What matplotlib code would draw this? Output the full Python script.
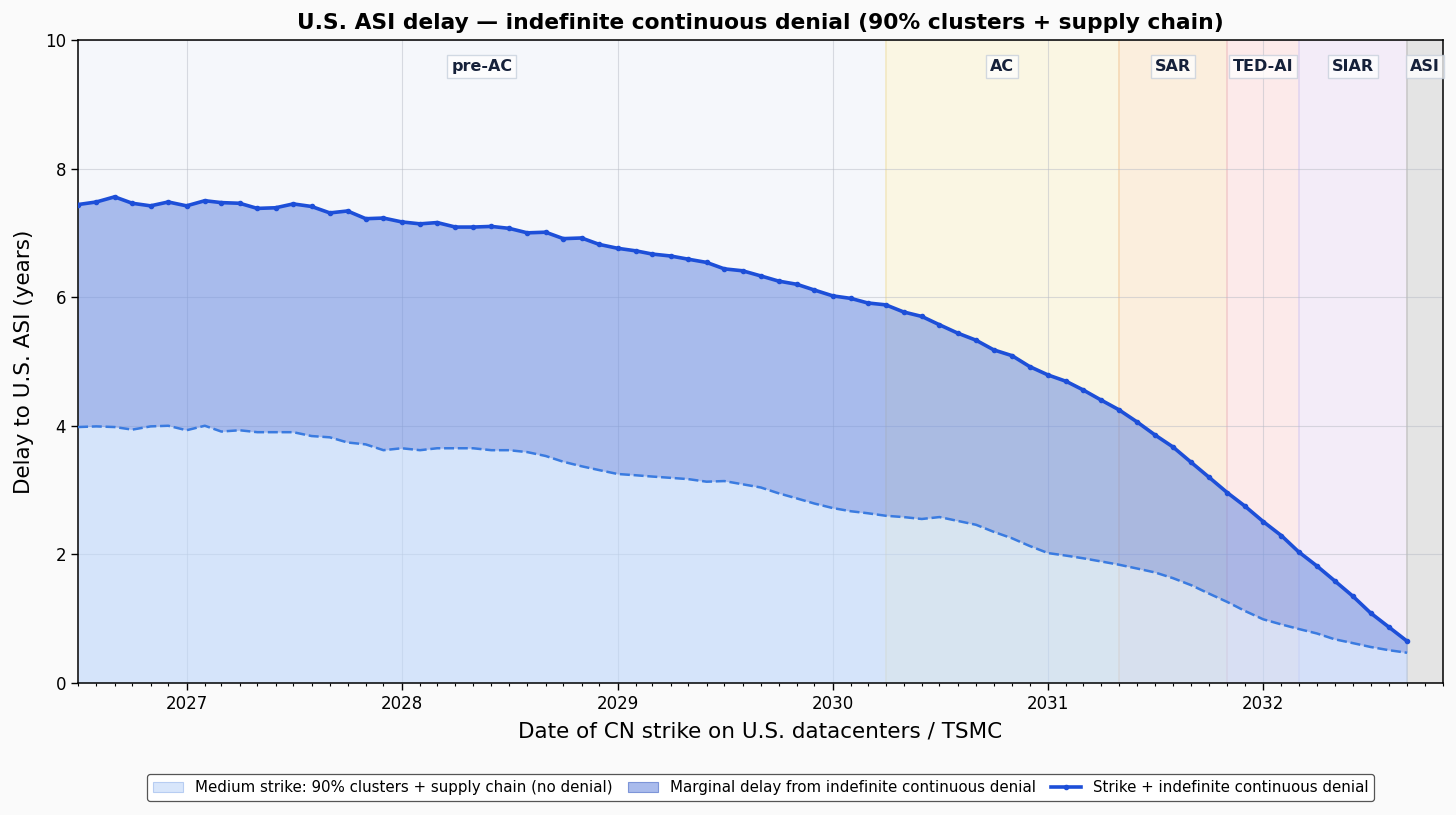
import matplotlib
matplotlib.use('Agg')
import matplotlib.pyplot as plt
import matplotlib.dates as mdates
from matplotlib.patches import Patch
from matplotlib.lines import Line2D
import pandas as pd

# monthly strike dates
dates = pd.date_range('2026-07-01', periods=75, freq='MS')

# delay with indefinite continuous denial (years)
with_denial = [
    7.44, 7.48, 7.56, 7.46, 7.42, 7.48, 7.42, 7.50, 7.47, 7.46, 7.38, 7.39,
    7.45, 7.41, 7.31, 7.34, 7.22, 7.23, 7.17, 7.14, 7.16, 7.09, 7.09, 7.10,
    7.07, 7.00, 7.01, 6.91, 6.92, 6.82, 6.76, 6.72, 6.67, 6.64, 6.59, 6.54,
    6.44, 6.41, 6.33, 6.25, 6.20, 6.11, 6.02, 5.98, 5.91, 5.88, 5.77, 5.70,
    5.57, 5.44, 5.33, 5.18, 5.09, 4.92, 4.79, 4.69, 4.56, 4.40, 4.25, 4.06,
    3.86, 3.67, 3.43, 3.20, 2.96, 2.75, 2.51, 2.29, 2.04, 1.82, 1.59, 1.35,
    1.09, 0.87, 0.65,
]

# delay from the medium strike alone (no denial)
no_denial = [
    3.98, 3.99, 3.98, 3.94, 3.99, 4.00, 3.93, 4.00, 3.91, 3.93, 3.90, 3.90,
    3.90, 3.84, 3.82, 3.74, 3.71, 3.62, 3.65, 3.62, 3.65, 3.65, 3.65, 3.62,
    3.62, 3.59, 3.53, 3.44, 3.37, 3.31, 3.25, 3.23, 3.21, 3.19, 3.17, 3.13,
    3.14, 3.09, 3.04, 2.95, 2.87, 2.79, 2.72, 2.67, 2.64, 2.60, 2.58, 2.55,
    2.58, 2.52, 2.46, 2.35, 2.25, 2.13, 2.02, 1.98, 1.94, 1.89, 1.84, 1.78,
    1.72, 1.63, 1.52, 1.39, 1.26, 1.12, 0.99, 0.91, 0.84, 0.77, 0.68, 0.62,
    0.56, 0.51, 0.47,
]

# AI milestone phases
phase_names = ['pre-AC', 'AC', 'SAR', 'TED-AI', 'SIAR', 'ASI']
phase_starts = ['2026-07-01', '2030-04-01', '2031-05-01', '2031-11-01', '2032-03-01', '2032-09-01']
x_end = '2032-11-01'

phase_fill = ['#f5f7fb', '#faf6e3', '#fbeedd', '#fceaea', '#f3ecf8', '#e4e4e4']
phase_edge = ['#dde3ee', '#f2e8c2', '#f5d9b5', '#f2cccc', '#e2d5f0', '#c9c9c9']

fig = plt.figure(figsize=(14.56, 8.15), dpi=100, facecolor='#fafafa')
ax = fig.add_axes([0.0536, 0.162, 0.9375, 0.789])
ax.set_facecolor('#f5f7fb')

bounds = [pd.Timestamp(s) for s in phase_starts] + [pd.Timestamp(x_end)]
for i, name in enumerate(phase_names):
    a, b = bounds[i], bounds[i + 1]
    ax.axvspan(a, b, color=phase_fill[i], zorder=0, lw=0)
    if i > 0:
        ax.axvline(a, color=phase_edge[i], lw=1.2, zorder=0.5)
    mid = a + (b - a) / 2
    ax.text(mid, 9.58, name, ha='center', va='center', fontsize=11.5,
            fontweight='bold', color='#16213a', zorder=6,
            bbox=dict(boxstyle='square,pad=0.25', fc='white', ec='#c5cedb',
                      alpha=0.75, lw=1))

ax.grid(True, color='#b8bcc6', lw=0.8, alpha=0.5, zorder=0.8)
ax.set_axisbelow(True)

light_c, mid_c = '#c0d8fa', '#7594e2'
ax.fill_between(dates, 0, no_denial, color=light_c, alpha=0.6, lw=0, zorder=2)
ax.fill_between(dates, no_denial, with_denial, color=mid_c, alpha=0.6, lw=0, zorder=2)
ax.plot(dates, no_denial, color='#3a7be0', lw=1.8, ls=(0, (4, 1.5)), zorder=3)
ax.plot(dates, with_denial, color='#1d4fd8', lw=2.6, marker='o', ms=3, zorder=4)

ax.set_xlim(pd.Timestamp(phase_starts[0]), pd.Timestamp(x_end))
ax.set_ylim(0, 10)
ax.set_yticks([0, 2, 4, 6, 8, 10])
ax.xaxis.set_major_locator(mdates.YearLocator())
ax.xaxis.set_major_formatter(mdates.DateFormatter('%Y'))
ax.xaxis.set_minor_locator(mdates.MonthLocator())
ax.tick_params(axis='both', which='major', labelsize=12, length=5, width=1)
ax.tick_params(axis='x', which='minor', length=2.5, width=0.8)
for s in ax.spines.values():
    s.set_color('black')
    s.set_linewidth(1.1)

ax.set_title('U.S. ASI delay \u2014 indefinite continuous denial (90% clusters + supply chain)',
             fontsize=15.7, fontweight='bold', pad=8)
ax.set_xlabel('Date of CN strike on U.S. datacenters / TSMC', fontsize=15.5, labelpad=6)
ax.set_ylabel('Delay to U.S. ASI (years)', fontsize=15.5, labelpad=8)

handles = [
    Patch(facecolor='#d8e6fb', edgecolor='#b7cdf2', lw=0.8,
          label='Medium strike: 90% clusters + supply chain (no denial)'),
    Patch(facecolor='#a9bbec', edgecolor='#7d95d8', lw=0.8,
          label='Marginal delay from indefinite continuous denial'),
    Line2D([], [], color='#1d4fd8', lw=2.6, marker='o', ms=3,
           label='Strike + indefinite continuous denial'),
]
leg = ax.legend(handles=handles, loc='center', bbox_to_anchor=(0.5, -0.163), ncol=3,
                fontsize=10.8, frameon=True, fancybox=True, edgecolor='#555555',
                framealpha=1, handlelength=2.0, columnspacing=1.0, borderpad=0.4)
leg.get_frame().set_linewidth(0.9)

fig.savefig('out.png', dpi=100, facecolor=fig.get_facecolor())
